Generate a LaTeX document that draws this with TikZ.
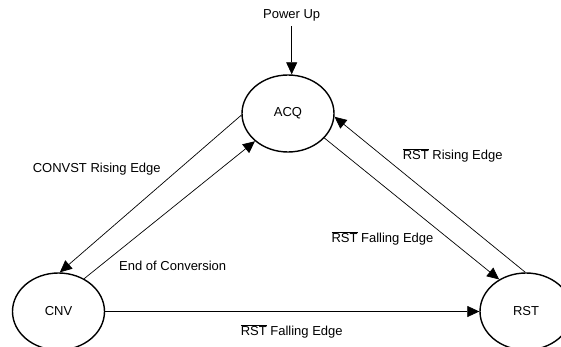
\documentclass[tikz,border=0pt]{standalone}
\usepackage{fontspec}
\setmainfont{Liberation Sans}
\usetikzlibrary{shapes.geometric,arrows.meta}
\newcommand\ovl[1]{$\overline{\hbox{#1}}$}
\begin{document}
\begin{tikzpicture}[x=1pt,y=-1pt,
  state/.style={ellipse,draw,line width=1.4pt,minimum width=92pt,minimum height=77pt,inner sep=0pt,font=\fontsize{13}{15}\selectfont},
  lbl/.style={font=\fontsize{13}{15}\selectfont,inner sep=0pt},
  trans/.style={line width=0.7pt,-{Triangle[length=12pt,width=11pt]}}]
\useasboundingbox (0,0) rectangle (561,347);
\clip (0,0) rectangle (561,347);
\node[state] (acq) at (288,113.5) {ACQ};
\node[state] (cnv) at (58.5,311.5) {CNV};
\node[state] (rst) at (526,311.5) {RST};
\node[lbl] (pu) at (291.7,15) {Power Up};
\draw[trans,shorten <=5pt] (pu.south) -- (pu.south |- acq.north);
\node[lbl] (l1) at (96.7,169.3) {CONVST Rising Edge};
\node[lbl] (l2) at (172.7,266) {End of Conversion};
\node[lbl] (l3) at (291.7,331) {\ovl{RST} Falling Edge};
\node[lbl] (l4) at (452.7,155) {\ovl{RST} Rising Edge};
\node[lbl] (l5) at (382.5,238.5) {\ovl{RST} Falling Edge};
\draw[trans] (acq.182) -- (cnv.88);
\draw[trans] (cnv.52) -- (acq.220);
\draw[trans] (acq.326) -- (rst.130);
\draw[trans] (rst.91.5) -- (acq.356);
\draw[trans] (cnv.0) -- (rst.180);
\end{tikzpicture}
\end{document}
